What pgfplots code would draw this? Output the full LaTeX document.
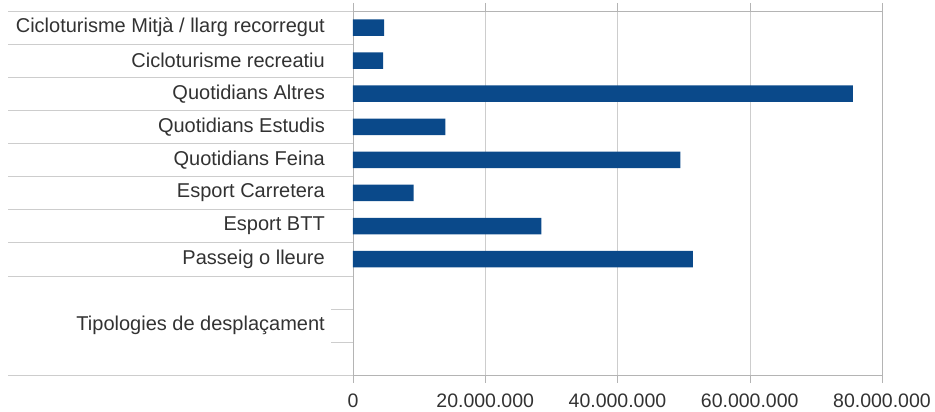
\documentclass[border=0pt]{standalone}
\usepackage{pgfplots}
\pgfplotsset{compat=1.18}
\usepackage{fontspec}
\setmainfont{Liberation Sans}
\definecolor{barblue}{RGB}{10,73,138}
\definecolor{gridgray}{RGB}{205,205,205}
\definecolor{axgray}{RGB}{180,180,180}
\definecolor{txt}{RGB}{50,50,50}
\begin{document}
\fontsize{19.5}{23}\selectfont
\begin{tikzpicture}
\begin{axis}[
  at={(0,0)}, anchor=south west, scale only axis,
  width=529pt, height=364pt,
  xmin=0, xmax=80000000, ymin=0, ymax=11,
  xbar, bar width=16.5pt,
  clip=false,
  axis line style={axgray},
  xmajorgrids, grid style={gridgray},
  xtick={0,20000000,40000000,60000000,80000000},
  scaled x ticks=false,
  /pgf/number format/fixed,
  /pgf/number format/1000 sep={.},
  /pgf/number format/assume math mode=true,
  tick align=outside,
  major tick length=8pt,
  xtick style={axgray},
  ytick style={draw=none},
  xticklabel style={font=\fontsize{19.5}{23}\selectfont, text=txt, inner sep=0pt, anchor=north, yshift=-11pt},
  ytick={1.5,3.5,4.5,5.5,6.5,7.5,8.5,9.5,10.5},
  yticklabels={Tipologies de desplaçament, Passeig o lleure, Esport BTT, Esport Carretera, Quotidians Feina, Quotidians Estudis, Quotidians Altres, Cicloturisme recreatiu, Cicloturisme Mitjà / llarg recorregut},
  yticklabel style={font=\fontsize{20}{24}\selectfont, text=txt, inner sep=0pt, anchor=east, xshift=-20pt},
]
\addplot[fill=barblue, draw=none] coordinates {
  (51400000,3.5)
  (28500000,4.5)
  (9180000,5.5)
  (49500000,6.5)
  (13970000,7.5)
  (75600000,8.5)
  (4540000,9.5)
  (4690000,10.5)
};
\pgfplotsinvokeforeach{0,3,4,5,6,7,8,9,10,11}{
  \draw[gridgray] (axis cs:0,#1) -- ++(-345pt,0);
}
\pgfplotsinvokeforeach{1,2}{
  \draw[gridgray] (axis cs:0,#1) -- ++(-22pt,0);
}
\end{axis}
\pgfresetboundingbox
\path (-353pt,-37pt) rectangle (582pt,375pt);
\end{tikzpicture}
\end{document}
